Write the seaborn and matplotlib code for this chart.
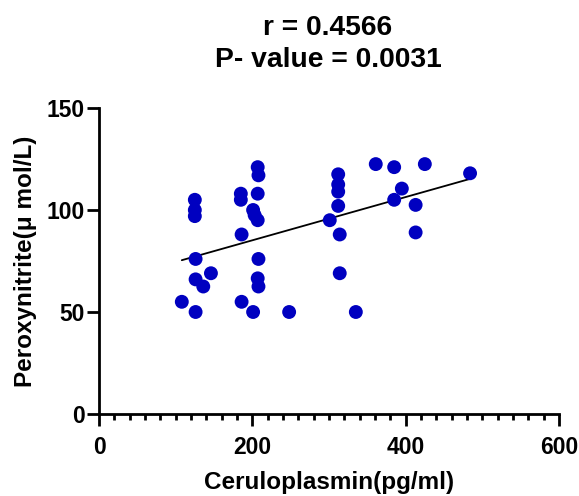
import matplotlib
matplotlib.use("Agg")
import matplotlib.pyplot as plt
import seaborn as sns
import pandas as pd
from matplotlib.ticker import MultipleLocator

ceruloplasmin = [207, 208, 125, 125, 125, 185, 185, 207, 201, 203, 207, 186,
                 126, 208, 146, 126, 136, 207, 208, 108, 186, 126, 201, 248,
                 361, 385, 425, 484, 312, 312, 312, 395, 312, 385, 413, 301,
                 314, 413, 314, 335]
peroxynitrite = [121, 117, 105, 100, 97, 108, 105, 108, 100, 97.5, 95, 88,
                 76, 76, 69, 66, 62.5, 66.5, 62.5, 55, 55, 50, 50, 50,
                 122.5, 121, 122.5, 118, 117.5, 112.5, 109, 110.5, 102, 105, 102.5, 95,
                 88, 89, 69, 50]
title_lines = ["r = 0.4566", "P- value = 0.0031"]
x_label = "Ceruloplasmin(pg/ml)"
y_label = "Peroxynitrite(\u03bc mol/L)"
x_ticks = [0, 200, 400, 600]
y_ticks = [0, 50, 100, 150]

df = pd.DataFrame({"x": ceruloplasmin, "y": peroxynitrite})

sns.set_style("ticks")
plt.rcParams["font.family"] = ["Liberation Sans", "DejaVu Sans"]
plt.rcParams["font.weight"] = "bold"
for k in ["text.color", "axes.labelcolor", "xtick.color", "ytick.color",
          "axes.edgecolor"]:
    plt.rcParams[k] = "black"

fig = plt.figure(figsize=(5.79, 4.96), dpi=100)
ax = fig.add_axes([99 / 579, 1 - 414 / 496, 460 / 579, 306 / 496])

sns.regplot(data=df, x="x", y="y", scatter=False, ci=None, ax=ax,
            line_kws={"color": "black", "linewidth": 1.3})
sns.scatterplot(data=df, x="x", y="y", ax=ax, color="#0000C0", s=100,
                edgecolor="none", zorder=3, clip_on=False)

ax.set_xlim(0, 600)
ax.set_ylim(0, 150)
ax.set_xticks(x_ticks)
ax.set_yticks(y_ticks)
ax.xaxis.set_minor_locator(MultipleLocator(20))
for s in ["top", "right"]:
    ax.spines[s].set_visible(False)
for s in ["left", "bottom"]:
    ax.spines[s].set_linewidth(2)
ax.tick_params(axis="both", which="major", length=8.5, width=2,
               labelsize=16.5)
ax.tick_params(axis="y", which="major", pad=1.5)
ax.tick_params(axis="x", which="major", pad=7)
ax.tick_params(axis="x", which="minor", length=4.5, width=2)
for lab in ax.get_xticklabels() + ax.get_yticklabels():
    lab.set_fontweight("bold")

ax.set_xlabel(x_label, fontsize=17.5, fontweight="bold", labelpad=9)
ax.set_ylabel(y_label, fontsize=17.5, fontweight="bold", labelpad=7)

cx = 328 / 579
fig.text(cx, 1 - 35 / 496, title_lines[0], ha="center", va="baseline",
         fontsize=20.3, fontweight="bold")
fig.text(cx, 1 - 67 / 496, title_lines[1], ha="center", va="baseline",
         fontsize=20.3, fontweight="bold")

fig.savefig("out.png", dpi=100)
